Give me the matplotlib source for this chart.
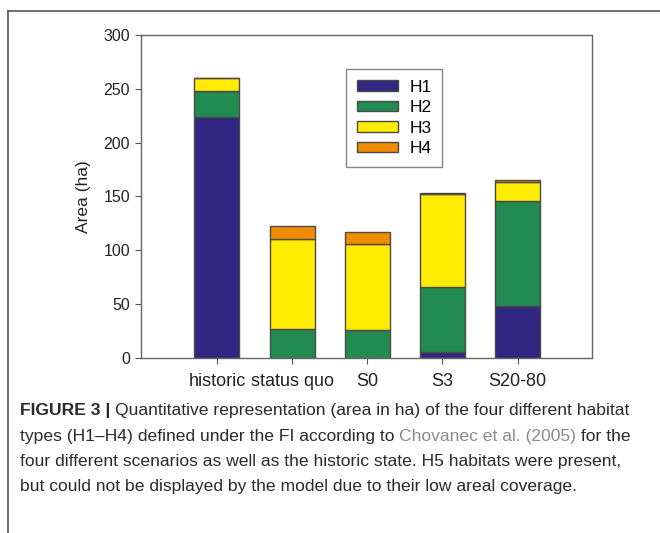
import matplotlib
matplotlib.use("Agg")
import matplotlib.pyplot as plt
from matplotlib.lines import Line2D
import numpy as np

plt.rcParams['font.family'] = ['Liberation Sans', 'DejaVu Sans']

categories = ["historic", "status quo", "S0", "S3", "S20-80"]
series_names = ["H1", "H2", "H3", "H4"]
h1 = [223.4, 0.0, 0.0, 5.0, 47.6]
h2 = [25.0, 26.9, 26.0, 61.0, 98.2]
h3 = [12.0, 83.1, 80.0, 86.6, 17.3]
h4 = [0.0, 12.3, 10.8, 0.9, 2.5]
colors = ["#312782", "#218b52", "#ffec00", "#ef8c00"]

caption_lines = [
    [("FIGURE 3 | ", "bold", "#2a2a2a"),
     ("Quantitative representation (area in ha) of the four different habitat", "normal", "#2a2a2a")],
    [("types (H1\u2013H4) defined under the FI according to ", "normal", "#2a2a2a"),
     ("Chovanec et al. (2005)", "normal", "#8a8a8a"),
     (" for the", "normal", "#2a2a2a")],
    [("four different scenarios as well as the historic state. H5 habitats were present,", "normal", "#2a2a2a")],
    [("but could not be displayed by the model due to their low areal coverage.", "normal", "#2a2a2a")],
]

fig = plt.figure(figsize=(6.6, 5.33), dpi=100)
ax = fig.add_axes([141/660, 1-357.7/533, (592-141)/660, (357.7-35)/533])

x = np.arange(len(categories))
bottom = np.zeros(len(categories))
for vals, c, name in zip([h1, h2, h3, h4], colors, series_names):
    ax.bar(x, vals, width=0.6, bottom=bottom, color=c, edgecolor="#4a4a4a",
           linewidth=1.0, label=name)
    bottom += np.array(vals)

ax.set_xlim(-1.01, 4.99)
ax.set_ylim(0, 300)
ax.set_yticks([0, 50, 100, 150, 200, 250, 300])
ax.set_xticks(x)
ax.set_xticklabels(categories, fontsize=13, color="#222222")
ax.tick_params(axis='y', labelsize=11.5, labelcolor="#222222", direction='out', length=4, color="#555555", pad=4)
ax.tick_params(axis='x', direction='out', length=4, color="#555555", pad=7)
ax.set_ylabel("Area (ha)", fontsize=12.5, color="#222222", labelpad=9)
for s in ax.spines.values():
    s.set_color("#666666")
    s.set_linewidth(1.0)

leg = ax.legend(loc='upper left', bbox_to_anchor=((346-141)/451, (357.7-69)/322.7),
                fontsize=12.5, frameon=True, fancybox=False, edgecolor="#666666",
                handlelength=2.4, handleheight=0.55, labelspacing=0.31, borderpad=0.62,
                handletextpad=0.62, borderaxespad=0)
leg.get_frame().set_linewidth(1.0)

# frame lines
fig.add_artist(Line2D([8/660, 8/660], [0, 1-11/533], color="#555555", lw=1.2, transform=fig.transFigure))
fig.add_artist(Line2D([8/660, 1], [1-11/533, 1-11/533], color="#555555", lw=1.2, transform=fig.transFigure))

fig.canvas.draw()
renderer = fig.canvas.get_renderer()
y0 = 411
for i, line in enumerate(caption_lines):
    xpx = 20
    ypx = y0 + i * 25.3
    for txt, weight, col in line:
        t = fig.text(xpx/660, 1-ypx/533, txt, fontsize=12.6, fontweight=weight, color=col,
                     ha='left', va='center')
        bb = t.get_window_extent(renderer=renderer)
        xpx += bb.width

fig.savefig("out.png", dpi=100)
